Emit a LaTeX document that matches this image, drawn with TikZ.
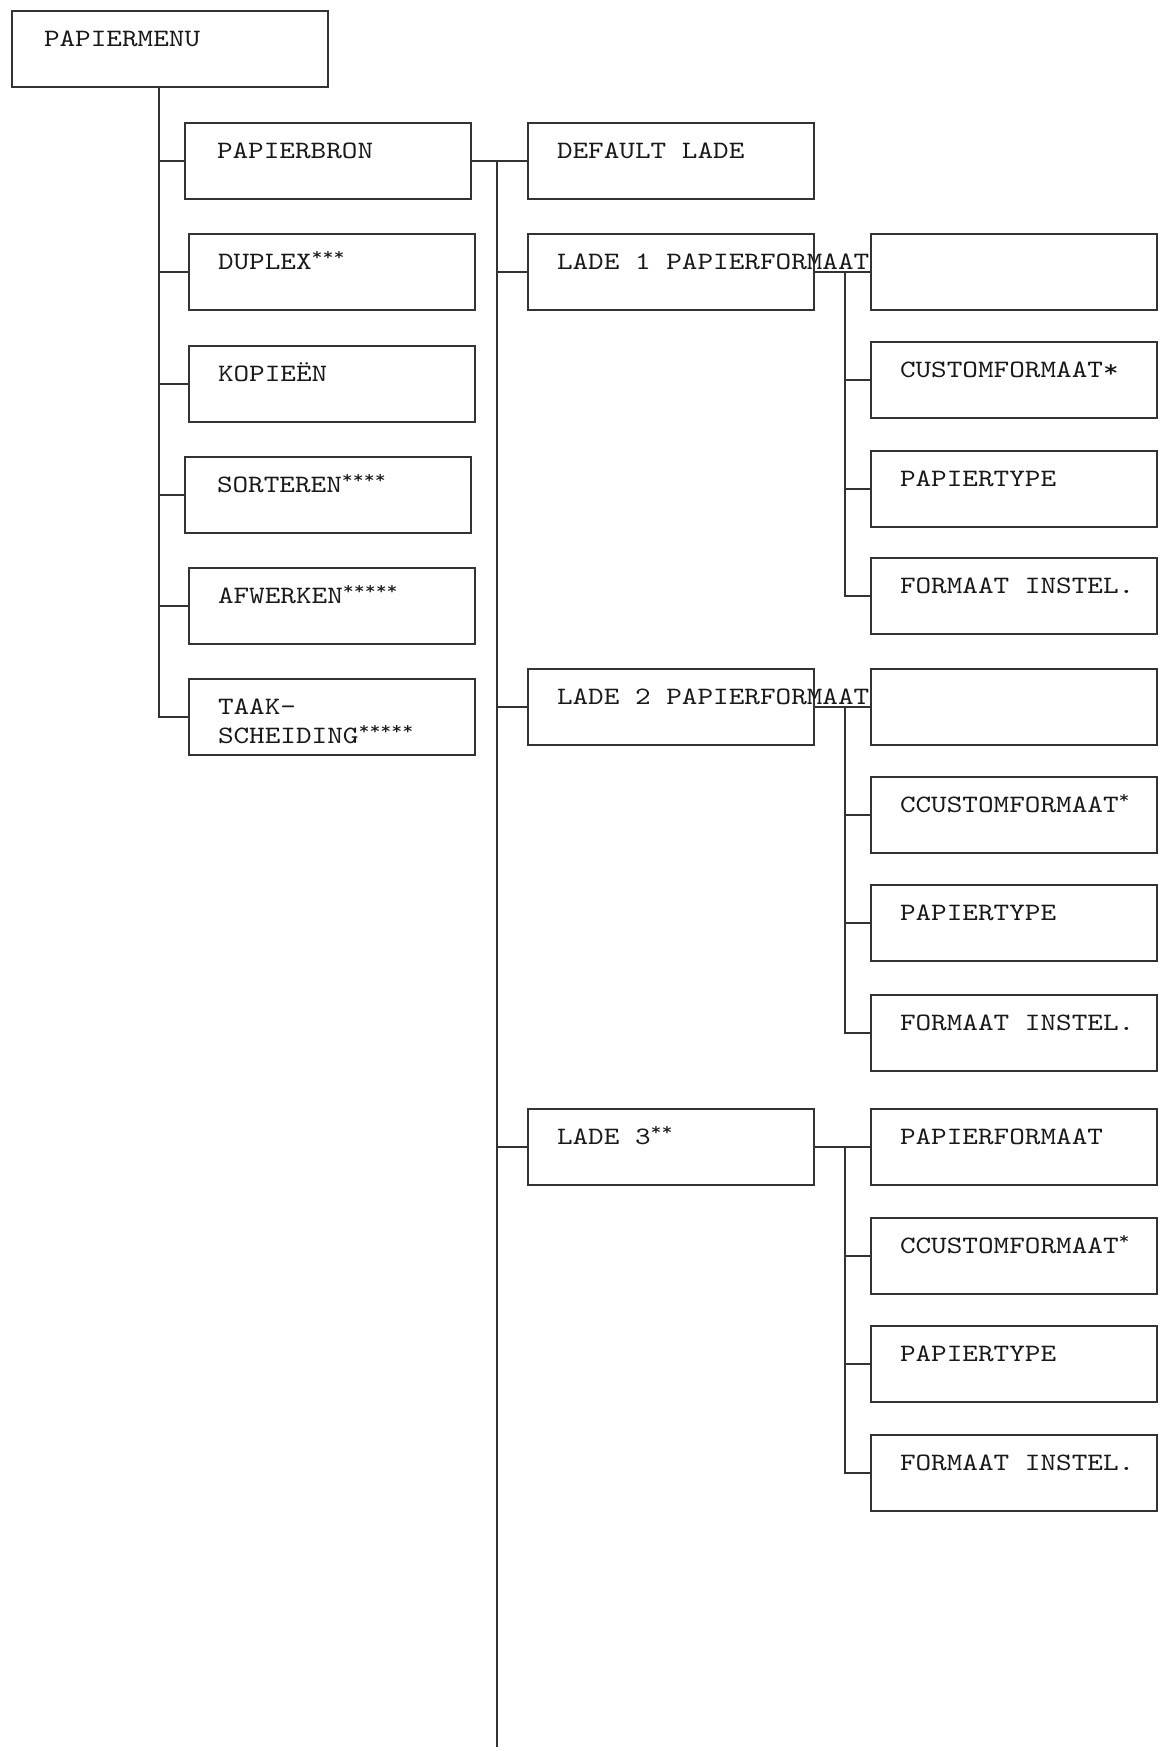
\documentclass[tikz,border=0pt]{standalone}
\usepackage{fontspec}
\newfontfamily\cour[FakeStretch=1.19]{lmmono10-regular.otf}
\newcommand\msp{\hphantom{X}}
\begin{document}
\begin{tikzpicture}[x=0.5pt,y=-0.5pt,
  bx/.style={draw=black!80, line width=1pt, anchor=north west, inner sep=0pt,
    minimum width=143pt, minimum height=38pt, text width=114pt, align=left,
    text height=17.5pt, text depth=20.5pt,
    font=\cour\fontsize{12.5}{14.5}\selectfont, text=black!90},
  bxw/.style={bx, text width=111pt},
  ln/.style={draw=black!80, line width=1pt}]
\useasboundingbox (0,0) rectangle (1168,1751);
% root
\node[bx, minimum width=158pt, text width=126pt] (menu) at (11,10) {PAPIERMENU};
% column 1
\node[bxw] (pbron) at (184,122) {PAPIERBRON};
\node[bx]  (dup)   at (188,233) {DUPLEX\textsuperscript{***}};
\node[bx]  (kop)   at (188,345) {KOPIEËN};
\node[bxw] (sort)  at (184,456) {SORTEREN\textsuperscript{****}};
\node[bx]  (afw)   at (188,567) {AFWERKEN\textsuperscript{*****}};
\node[bx]  (taak)  at (188,678) {TAAK-\\SCHEIDING\textsuperscript{*****}};
% column 2
\node[bx] (dl) at (527,122) {DEFAULT\msp LADE};
\node[bx] (l1) at (527,233) {\mbox{LADE\msp 1\msp PAPIERFORMAAT}};
\node[bx] (l2) at (527,668) {\mbox{LADE\msp 2\msp PAPIERFORMAAT}};
\node[bx] (l3) at (527,1108) {LADE\msp 3\textsuperscript{**}};
% column 3
\node[bx] (r1a) at (870,233) {};
\node[bx] (r1b) at (870,341) {CUSTOMFORMAAT*};
\node[bx] (r1c) at (870,450) {PAPIERTYPE};
\node[bx] (r1d) at (870,557) {FORMAAT\msp INSTEL.};
\node[bx] (r2a) at (870,668) {};
\node[bx] (r2b) at (870,776) {CCUSTOMFORMAAT\textsuperscript{*}};
\node[bx] (r2c) at (870,884) {PAPIERTYPE};
\node[bx] (r2d) at (870,994) {FORMAAT\msp INSTEL.};
\node[bx] (r3a) at (870,1108) {PAPIERFORMAAT};
\node[bx] (r3b) at (870,1217) {CCUSTOMFORMAAT\textsuperscript{*}};
\node[bx] (r3c) at (870,1325) {PAPIERTYPE};
\node[bx] (r3d) at (870,1434) {FORMAAT\msp INSTEL.};
% helper coordinates
\coordinate (tk) at (159,0);
\coordinate (v2) at (497,0);
\coordinate (bot) at (497,1747);
\coordinate (s1) at (845,0);
% connectors
\draw[ln] (menu.south -| tk) |- (taak.west);
\foreach \n in {pbron,dup,kop,sort,afw} \draw[ln] (tk |- \n.west) -- (\n.west);
\draw[ln] (pbron.east) -- (dl.west);
\draw[ln] (v2 |- pbron.east) -- (bot);
\foreach \n in {l1,l2,l3} \draw[ln] (v2 |- \n.west) -- (\n.west);
\draw[ln] (l1.east) -- (r1a.west);
\draw[ln] (s1 |- l1.east) |- (r1d.west);
\foreach \n in {r1b,r1c} \draw[ln] (s1 |- \n.west) -- (\n.west);
\draw[ln] (l2.east) -- (r2a.west);
\draw[ln] (s1 |- l2.east) |- (r2d.west);
\foreach \n in {r2b,r2c} \draw[ln] (s1 |- \n.west) -- (\n.west);
\draw[ln] (l3.east) -- (r3a.west);
\draw[ln] (s1 |- l3.east) |- (r3d.west);
\foreach \n in {r3b,r3c} \draw[ln] (s1 |- \n.west) -- (\n.west);
\end{tikzpicture}
\end{document}
